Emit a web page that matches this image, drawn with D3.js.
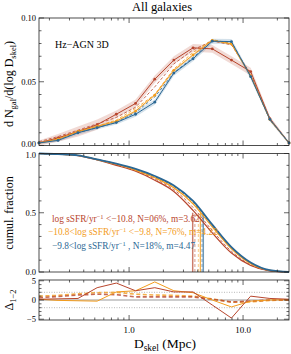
<!DOCTYPE html>
<meta charset="utf-8">
<script src="https://d3js.org/d3.v7.min.js"></script>
<style>
body { margin: 0; background: #fff; }
svg text { font-family: "Liberation Serif", "Times New Roman", "DejaVu Serif", serif; }
</style>
<body>
<div id="chart"></div>
<script>
// bin centres of D_skel (Mpc)
var dskel = [0.162, 0.238, 0.356, 0.524, 0.772, 1.14, 1.68, 2.47, 3.64, 5.37, 7.91, 11.66, 17.2, 25.3];

// top panel: dN/dlogD, solid = with markers, dashed = second run
var pdfRed    = [0.002, 0.006, 0.011, 0.0163, 0.0245, 0.033, 0.052, 0.067, 0.0766, 0.0758, 0.067, 0.058, 0.021, 0.002];
var pdfOrange = [0.002, 0.005, 0.011, 0.015, 0.019, 0.027, 0.0395, 0.059, 0.071, 0.0825, 0.0796, 0.0545, 0.0203, 0.002];
var pdfBlue   = [0.002, 0.004, 0.010, 0.014, 0.018, 0.0245, 0.034, 0.0568, 0.068, 0.0818, 0.0815, 0.054, 0.0205, 0.002];
var errRed    = [0.002, 0.003, 0.004, 0.004, 0.003, 0.003, 0.003, 0.003, 0.003, 0.003, 0.003, 0.003, 0.002, 0.001];
var errOrange = [0.001, 0.001, 0.001, 0.001, 0.001, 0.001, 0.001, 0.001, 0.001, 0.001, 0.001, 0.001, 0.001, 0.0005];
var errBlue   = [0.001, 0.001, 0.0015, 0.0015, 0.0015, 0.002, 0.002, 0.002, 0.002, 0.002, 0.002, 0.002, 0.0015, 0.001];
var pdfRedD    = [0.003, 0.007, 0.012, 0.017, 0.022, 0.030, 0.046, 0.064, 0.075, 0.082, 0.079, 0.056, 0.021, 0.002];
var pdfOrangeD = [0.002, 0.006, 0.011, 0.015, 0.020, 0.029, 0.040, 0.060, 0.073, 0.083, 0.080, 0.055, 0.020, 0.002];
var pdfBlueD   = [0.002, 0.005, 0.010, 0.014, 0.018, 0.026, 0.038, 0.057, 0.069, 0.082, 0.081, 0.055, 0.020, 0.002];

// middle panel: cumulative fraction
var cumRed    = [1.0, 0.994, 0.982, 0.945, 0.90, 0.85, 0.775, 0.68, 0.52, 0.33, 0.16, 0.055, 0.010, 0.0];
var cumOrange = [1.0, 0.995, 0.984, 0.948, 0.91, 0.86, 0.795, 0.71, 0.575, 0.38, 0.195, 0.07, 0.013, 0.0];
var cumBlue   = [1.0, 0.995, 0.985, 0.95, 0.915, 0.87, 0.81, 0.73, 0.60, 0.40, 0.21, 0.08, 0.015, 0.0];
var cumRedD    = [1.0, 0.994, 0.983, 0.948, 0.905, 0.855, 0.785, 0.695, 0.545, 0.35, 0.175, 0.06, 0.011, 0.0];
var cumOrangeD = [1.0, 0.995, 0.985, 0.95, 0.912, 0.862, 0.80, 0.72, 0.585, 0.39, 0.20, 0.072, 0.013, 0.0];
var cumBlueD   = [1.0, 0.995, 0.985, 0.95, 0.913, 0.866, 0.805, 0.725, 0.59, 0.395, 0.205, 0.077, 0.014, 0.0];
var medians  = [3.62, 4.22, 4.47];
var mediansD = [3.78, 4.05, 4.36];

// bottom panel: differences
var deltaRed     = [0.2, 0.3, 0.4, 3.2, 4.4, 2.4, 3.2, 2.1, 2.1, -1.3, -4.7, 1.0, 0.4, 0.2];
var deltaOrange  = [0.2, -0.1, -0.2, -0.3, 2.1, 2.4, 4.7, 2.4, 1.9, 0.0, -1.8, -0.3, 0.0, 0.1];
var deltaRedD    = [0.6, 0.9, 1.3, 1.5, 1.4, 0.8, 0.8, 0.8, 0.8, 0.2, -0.5, -0.3, 0.0, 0.0];
var deltaOrangeD = [1.0, 1.2, 1.6, 1.9, 2.0, 1.5, 1.3, 1.2, 1.0, 0.3, -0.6, -0.5, -0.1, 0.0];

var legendLabels = [
  ["log sSFR/yr", " <\u221210.8, N=06%, m=3.62"],
  ["\u221210.8<log sSFR/yr", " <\u22129.8, N=76%, m=4.22"],
  ["\u22129.8<log sSFR/yr", " , N=18%, m=4.47"]
];

var RED = "#b8452c", ORANGE = "#f39c1c", BLUE = "#2a6794";
var colors = [RED, ORANGE, BLUE];

var width = 291, height = 354;
var svg = d3.select("#chart").append("svg")
  .attr("width", width).attr("height", height);

var x = d3.scaleLog().domain([0.162, 25.3]).range([39, 289]);
var y1 = d3.scaleLinear().domain([0, 0.1]).range([145.5, 18]);
var y2 = d3.scaleLinear().domain([0, 1]).range([272, 153.5]);
var y3 = d3.scaleLinear().domain([-5.2, 5.2]).range([320, 280]);

var xMajor = [1, 10];
var xMinor = [0.2,0.3,0.4,0.5,0.6,0.7,0.8,0.9,2,3,4,5,6,7,8,9,20];

// frame with inward ticks on all four sides; nudge = label shift per tick value
function frame(y, majors, minors, fmt, nudge) {
  var g = svg.append("g");
  var top = y.range()[1], bot = y.range()[0];
  var x0 = x.range()[0], x1 = x.range()[1];
  xMajor.forEach(function(v) {
    g.append("line").attr("x1", x(v)).attr("x2", x(v)).attr("y1", bot).attr("y2", bot - 5);
    g.append("line").attr("x1", x(v)).attr("x2", x(v)).attr("y1", top).attr("y2", top + 5);
  });
  xMinor.forEach(function(v) {
    g.append("line").attr("x1", x(v)).attr("x2", x(v)).attr("y1", bot).attr("y2", bot - 2.5);
    g.append("line").attr("x1", x(v)).attr("x2", x(v)).attr("y1", top).attr("y2", top + 2.5);
  });
  majors.forEach(function(v, i) {
    g.append("line").attr("x1", x0).attr("x2", x0 + 5).attr("y1", y(v)).attr("y2", y(v));
    g.append("line").attr("x1", x1).attr("x2", x1 - 5).attr("y1", y(v)).attr("y2", y(v));
    svg.append("text").attr("x", x0 - 3).attr("y", y(v) + 3 + (nudge ? nudge[i] : 0))
      .attr("text-anchor", "end").style("font-size", "8.5px").text(fmt(v));
  });
  minors.forEach(function(v) {
    g.append("line").attr("x1", x0).attr("x2", x0 + 2.5).attr("y1", y(v)).attr("y2", y(v));
    g.append("line").attr("x1", x1).attr("x2", x1 - 2.5).attr("y1", y(v)).attr("y2", y(v));
  });
  g.selectAll("line").attr("stroke", "#222").attr("stroke-width", 0.7);
  g.append("rect").attr("x", x0).attr("y", top).attr("width", x1 - x0).attr("height", bot - top)
    .attr("fill", "none").attr("stroke", "#222").attr("stroke-width", 0.8);
}

function series(vals) {
  return vals.map(function(v, i) { return [dskel[i], v]; });
}

// ---- panel 1 ----
var line1 = d3.line().x(function(d) { return x(d[0]); }).y(function(d) { return y1(d[1]); });
var area1 = d3.area().x(function(d, i) { return x(dskel[i]); })
  .y0(function(d) { return y1(d[0] - d[1]); }).y1(function(d) { return y1(d[0] + d[1]); });

[[pdfRed, errRed], [pdfOrange, errOrange], [pdfBlue, errBlue]].forEach(function(p, k) {
  svg.append("path").datum(p[0].map(function(v, i) { return [v, p[1][i]]; }))
    .attr("d", area1).attr("fill", colors[k]).attr("opacity", 0.2);
});
[pdfRedD, pdfOrangeD, pdfBlueD].forEach(function(p, k) {
  svg.append("path").datum(series(p)).attr("d", line1).attr("fill", "none")
    .attr("stroke", colors[k]).attr("stroke-width", 1).attr("stroke-dasharray", "3,2").attr("opacity", 0.8);
});
[pdfRed, pdfOrange, pdfBlue].forEach(function(p, k) {
  svg.append("path").datum(series(p)).attr("d", line1).attr("fill", "none")
    .attr("stroke", colors[k]).attr("stroke-width", 1);
  svg.append("g").selectAll("circle").data(series(p)).enter().append("circle")
    .attr("cx", function(d) { return x(d[0]); }).attr("cy", function(d) { return y1(d[1]); })
    .attr("r", 1.4).attr("fill", colors[k]);
});
frame(y1, [0, 0.05, 0.1], d3.range(0.01, 0.1, 0.01).filter(function(v) { return Math.abs(v - 0.05) > 1e-6; }),
  d3.format(".2f"), [-1.2, 0, 0]);
svg.append("text").attr("x", 55).attr("y", 48).style("font-size", "10px").text("Hz\u2212AGN 3D");

// ---- panel 2 ----
var line2 = d3.line().curve(d3.curveMonotoneX).x(function(d) { return x(d[0]); }).y(function(d) { return y2(d[1]); });
medians.forEach(function(m, k) {
  svg.append("rect").attr("x", x(m * 0.98)).attr("width", x(m * 1.02) - x(m * 0.98))
    .attr("y", y2(0.5)).attr("height", y2(0) - y2(0.5)).attr("fill", colors[k]).attr("opacity", 0.12);
  svg.append("line").attr("x1", x(m)).attr("x2", x(m)).attr("y1", y2(0)).attr("y2", y2(0.5))
    .attr("stroke", colors[k]).attr("stroke-width", 0.9);
  svg.append("line").attr("x1", x(mediansD[k])).attr("x2", x(mediansD[k])).attr("y1", y2(0)).attr("y2", y2(0.5))
    .attr("stroke", colors[k]).attr("stroke-width", 0.9).attr("stroke-dasharray", "3,2").attr("opacity", 0.6);
});
[cumRedD, cumOrangeD, cumBlueD].forEach(function(p, k) {
  svg.append("path").datum(series(p)).attr("d", line2).attr("fill", "none")
    .attr("stroke", colors[k]).attr("stroke-width", 1).attr("stroke-dasharray", "3,2").attr("opacity", 0.8);
});
[cumRed, cumOrange, cumBlue].forEach(function(p, k) {
  svg.append("path").datum(series(p)).attr("d", line2).attr("fill", "none")
    .attr("stroke", colors[k]).attr("stroke-width", k == 2 ? 1.8 : 1.2);
});
frame(y2, [0, 0.5, 1], [0.1,0.2,0.3,0.4,0.6,0.7,0.8,0.9], d3.format(".1f"), [0, 0, 1.2]);

var legY = [221.5, 235, 248.5], legX = [52, 48, 52];
legendLabels.forEach(function(l, k) {
  var t = svg.append("text").attr("x", legX[k]).attr("y", legY[k]).style("font-size", "9.3px").style("fill", colors[k]);
  t.append("tspan").text(l[0]);
  t.append("tspan").attr("dy", -3).style("font-size", "6.5px").text("\u22121");
  t.append("tspan").attr("dy", 3).text(l[1]);
});

// ---- panel 3 ----
var line3 = d3.line().x(function(d) { return x(d[0]); }).y(function(d) { return y3(d[1]); });
svg.append("line").attr("x1", x.range()[0]).attr("x2", x.range()[1]).attr("y1", y3(0)).attr("y2", y3(0))
  .attr("stroke", "#bbb").attr("stroke-width", 1.5);
[-2, 2].forEach(function(v) {
  svg.append("line").attr("x1", x.range()[0]).attr("x2", x.range()[1]).attr("y1", y3(v)).attr("y2", y3(v))
    .attr("stroke", "#888").attr("stroke-width", 0.6).attr("stroke-dasharray", "1,1.5");
});
[[deltaOrangeD, ORANGE], [deltaRedD, RED]].forEach(function(p) {
  svg.append("path").datum(series(p[0])).attr("d", line3).attr("fill", "none")
    .attr("stroke", p[1]).attr("stroke-width", 1.6).attr("stroke-dasharray", "4,2.5").attr("opacity", 0.8);
});
[[deltaOrange, ORANGE], [deltaRed, RED]].forEach(function(p) {
  svg.append("path").datum(series(p[0])).attr("d", line3).attr("fill", "none")
    .attr("stroke", p[1]).attr("stroke-width", 1);
});
frame(y3, [-5, 0, 5], [-4,-3,-2,-1,1,2,3,4], function(v) { return v < 0 ? "\u2212" + Math.abs(v) : String(v); });

// x tick labels
xMajor.forEach(function(v) {
  svg.append("text").attr("x", x(v)).attr("y", 333).attr("text-anchor", "middle")
    .style("font-size", "9px").text(d3.format(".1f")(v));
});

// titles and axis labels
svg.append("text").attr("x", 162).attr("y", 11).attr("text-anchor", "middle")
  .style("font-size", "12.5px").text("All galaxies");

var xl = svg.append("text").attr("x", 165).attr("y", 348).attr("text-anchor", "middle").style("font-size", "13.5px");
xl.append("tspan").text("D");
xl.append("tspan").attr("dy", 3).style("font-size", "9.5px").text("skel");
xl.append("tspan").attr("dy", -3).text(" (Mpc)");

var yl1 = svg.append("text").attr("transform", "translate(13,84) rotate(-90)").attr("text-anchor", "middle").style("font-size", "12px");
yl1.append("tspan").text("d N");
yl1.append("tspan").attr("dy", 2.5).style("font-size", "8.5px").text("gal");
yl1.append("tspan").attr("dy", -2.5).text("/d(log D");
yl1.append("tspan").attr("dy", 2.5).style("font-size", "8.5px").text("skel");
yl1.append("tspan").attr("dy", -2.5).text(")");

svg.append("text").attr("transform", "translate(13,213) rotate(-90)").attr("text-anchor", "middle")
  .style("font-size", "12px").text("cumul. fraction");

var yl3 = svg.append("text").attr("transform", "translate(13,300) rotate(-90)").attr("text-anchor", "middle").style("font-size", "12px");
yl3.append("tspan").text("\u0394");
yl3.append("tspan").attr("dy", 2.5).style("font-size", "8.5px").text("1\u22122");
</script>
</body>
